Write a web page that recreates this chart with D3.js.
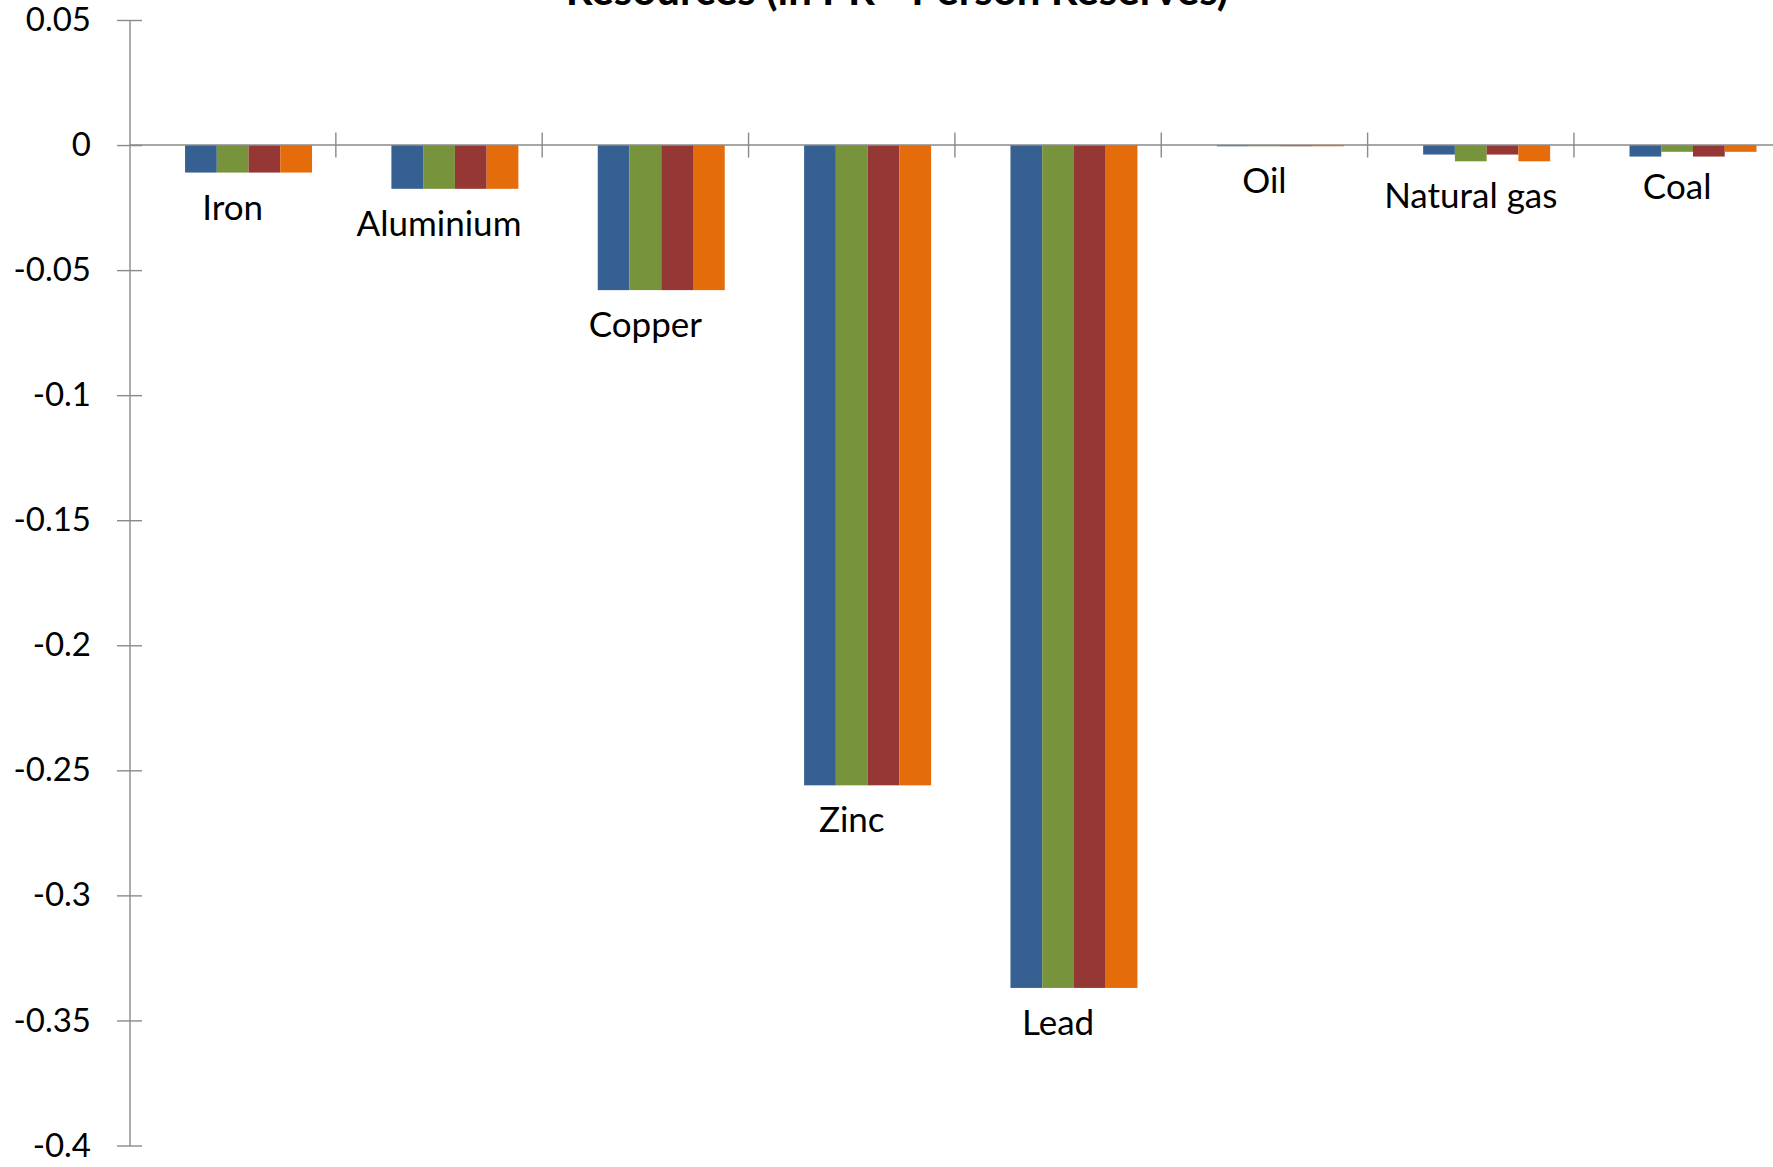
<!DOCTYPE html>
<html>
<head>
<meta charset="utf-8">
<script src="https://cdn.jsdelivr.net/npm/d3@7"></script>
<style>
  html, body { margin: 0; padding: 0; background: #ffffff; }
  svg { display: block; }
  text { font-family: Lato, "Open Sans", sans-serif; fill: #000; }
</style>
</head>
<body>
<svg id="chart" width="1773" height="1167"></svg>
<script>
// Change in resource reserves, per category, four series
const titleText = "Resources (in PR - Person Reserves)";
const categories = ["Iron", "Aluminium", "Copper", "Zinc", "Lead", "Oil", "Natural gas", "Coal"];
const seriesNames = ["Series 1", "Series 2", "Series 3", "Series 4"];
const seriesColors = ["#376092", "#77933C", "#953735", "#E46C0A"];

const series1 = [-0.011, -0.0175, -0.058, -0.256, -0.337, -0.0005, -0.0038, -0.0046];
const series2 = [-0.011, -0.0175, -0.058, -0.256, -0.337, -0.0005, -0.0065, -0.0027];
const series3 = [-0.011, -0.0175, -0.058, -0.256, -0.337, -0.0005, -0.0038, -0.0046];
const series4 = [-0.011, -0.0175, -0.058, -0.256, -0.337, -0.0005, -0.0065, -0.0027];

const yTickValues = [0.05, 0, -0.05, -0.1, -0.15, -0.2, -0.25, -0.3, -0.35, -0.4];
const yTickLabels = ["0.05", "0", "-0.05", "-0.1", "-0.15", "-0.2", "-0.25", "-0.3", "-0.35", "-0.4"];

const seriesValues = [series1, series2, series3, series4];

const svg = d3.select("#chart");

// plot geometry
const plotLeft = 129.5;
const step = 206.35;
const plotRight = plotLeft + step * categories.length;
const plotTop = 20;
const plotBottom = 1145.5;
const lineColor = "#8a8a8a";

const y = d3.scaleLinear().domain([-0.4, 0.05]).range([plotBottom, plotTop]);
const x0 = d3.scaleBand().domain(categories).range([plotLeft, plotRight]).padding(0);

// five slots per category; the first slot is left empty, as in the source layout
const slotDomain = ["(blank)"].concat(seriesNames);
const barW = x0.bandwidth() / 6.5;
const x1 = d3.scaleBand().domain(slotDomain)
  .range([barW * 0.75, x0.bandwidth() - barW * 0.75]).padding(0);

// title (only its lower part falls inside the frame)
svg.append("text")
  .attr("x", 897).attr("y", 5)
  .attr("text-anchor", "middle")
  .style("font-weight", "bold")
  .style("font-size", "42px")
  .text(titleText);

// bars
const rows = categories.map((c, i) => ({
  cat: c,
  vals: seriesNames.map((s, j) => ({ s, j, v: seriesValues[j][i] }))
}));

const groups = svg.append("g").selectAll("g")
  .data(rows).join("g")
  .attr("transform", d => `translate(${x0(d.cat)},0)`);

groups.selectAll("rect")
  .data(d => d.vals).join("rect")
  .attr("x", d => x1(d.s))
  .attr("width", x1.bandwidth())
  .attr("y", d => Math.min(y(0), y(d.v)))
  .attr("height", d => Math.abs(y(d.v) - y(0)))
  .attr("fill", d => seriesColors[d.j]);

// y axis with ticks crossing the line
const yAxis = d3.axisLeft(y)
  .tickValues(yTickValues)
  .tickFormat((d, i) => yTickLabels[i])
  .tickSizeInner(12.5)
  .tickSizeOuter(0)
  .tickPadding(26);

const gy = svg.append("g").attr("transform", `translate(${plotLeft},0)`).call(yAxis);
gy.select(".domain").attr("stroke", lineColor).attr("stroke-width", 1.4);
gy.selectAll(".tick line").attr("stroke", lineColor).attr("stroke-width", 1.4)
  .attr("x1", 12.5).attr("x2", -12.5);
gy.selectAll(".tick text")
  .style("font-family", "Lato, 'Open Sans', sans-serif")
  .style("font-size", "33px")
  .attr("fill", "#000");

// horizontal axis at zero with category separators
const gx = svg.append("g");
gx.append("line")
  .attr("x1", plotLeft).attr("x2", plotRight)
  .attr("y1", y(0)).attr("y2", y(0))
  .attr("stroke", lineColor).attr("stroke-width", 1.4);

const boundaries = categories.map(c => x0(c)).concat([plotRight]).slice(1);
gx.selectAll("line.sep")
  .data(boundaries).join("line")
  .attr("class", "sep")
  .attr("x1", d => d).attr("x2", d => d)
  .attr("y1", y(0) - 12.5).attr("y2", y(0) + 12.5)
  .attr("stroke", lineColor).attr("stroke-width", 1.4);

// category names, placed under the last series' bar of each group
svg.append("g").selectAll("text")
  .data(rows).join("text")
  .attr("x", d => x0(d.cat) + x0.bandwidth() / 2)
  .attr("y", d => y(d.vals[d.vals.length - 1].v) + 47)
  .attr("text-anchor", "middle")
  .style("font-size", "35px")
  .text(d => d.cat);
</script>
</body>
</html>
